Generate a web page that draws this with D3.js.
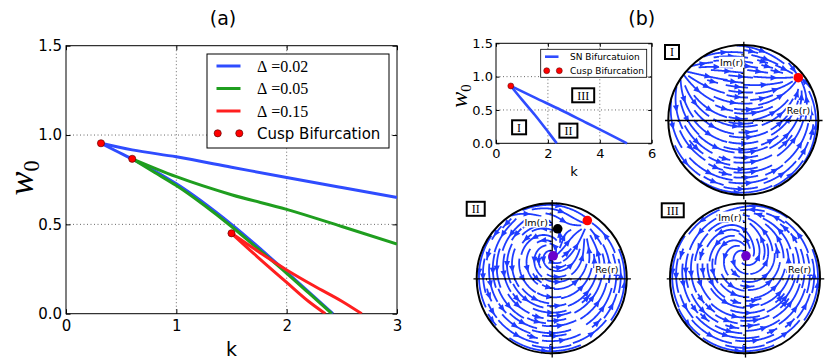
<!DOCTYPE html>
<html>
<head>
<meta charset="utf-8">
<script src="https://cdn.jsdelivr.net/npm/d3@7"></script>
<style>
  body { margin: 0; background: #fff; }
  svg { display: block; }
</style>
</head>
<body>
<div id="chart"></div>
<script>
// ---------- data ----------
const kTicksA = [0, 1, 2, 3];
const wTicksA = [0, 0.5, 1.0, 1.5];
const kTicksB = [0, 2, 4, 6];
const wTicksB = [0, 0.5, 1.0, 1.5];

const deltaLabels = ["0.02", "0.05", "0.15"];

// SN branches (k, w0) for each Delta, both leave the cusp point
const blueUpper = [[0.317, 0.954], [0.6, 0.917], [1, 0.878], [1.5, 0.82], [2, 0.762], [2.5, 0.706], [3, 0.651]];
const blueLower = [[0.317, 0.954], [0.45, 0.912], [0.6, 0.866], [0.8, 0.8], [1, 0.727], [1.5, 0.5], [2, 0.232], [2.42, 0]];
const greenUpper = [[0.6, 0.867], [1, 0.767], [1.5, 0.666], [2, 0.584], [2.5, 0.488], [3, 0.39]];
const greenLower = [[0.6, 0.867], [0.8, 0.792], [1, 0.717], [1.25, 0.608], [1.5, 0.488], [1.75, 0.358], [2, 0.226], [2.2, 0.116], [2.41, 0]];
const redUpper = [[1.5, 0.45], [1.75, 0.345], [2, 0.245], [2.25, 0.155], [2.5, 0.07], [2.68, 0]];
const redLower = [[1.5, 0.45], [1.75, 0.31], [2, 0.175], [2.2, 0.068], [2.35, 0]];
const cuspA = [[0.317, 0.954], [0.6, 0.867], [1.5, 0.45]];

// inset (Delta = 0.05, wider k range)
const snUpperB = [[0.57, 0.86], [1.5, 0.685], [2.5, 0.5], [3.5, 0.305], [4.3, 0.15], [5.05, 0]];
const snLowerB = [[0.57, 0.86], [1, 0.655], [1.5, 0.425], [2, 0.175], [2.34, 0]];
const cuspB = [[0.57, 0.86]];
const regionNames = ["I", "II", "III"];
const regionK = [0.89, 2.79, 3.36];
const regionW = [0.24, 0.19, 0.72];

// fixed points in the r-plane (Re r, Im r)
const stableI = [[0.733, 0.564]];
const stableII = [[0.475, 0.77]];
const saddleII = [[0.08, 0.66]];
const focusII = [[0.02, 0.30]];
const focusIII = [[0.013, 0.30]];

// ---------- styles ----------
const SANS = "DejaVu Sans";
const SERIF = "Liberation Serif";
const curveColors = ["#2f4cff", "#1f9e1f", "#ff1f1f"];
const STREAM = "#1e3cff";

const svg = d3.select("#chart").append("svg")
  .attr("width", 830).attr("height", 363)
  .style("background", "#fff");

const defs = svg.append("defs");

// ---------- helpers ----------
function frameAxes(g, x, y, kt, wt, fs, tick, padX, padY) {
  const [x0, x1] = x.range();
  const [y0, y1] = y.range();
  // dotted grid
  g.append("g").selectAll("line").data(kt.slice(1, -1)).join("line")
    .attr("x1", d => x(d)).attr("x2", d => x(d)).attr("y1", y0).attr("y2", y1)
    .attr("stroke", "#000").attr("stroke-width", 0.6).attr("stroke-dasharray", "1,2.5");
  g.append("g").selectAll("line").data(wt.slice(1, -1)).join("line")
    .attr("y1", d => y(d)).attr("y2", d => y(d)).attr("x1", x0).attr("x2", x1)
    .attr("stroke", "#000").attr("stroke-width", 0.6).attr("stroke-dasharray", "1,2.5");

  const style = sel => {
    sel.attr("font-family", SANS).attr("font-size", fs);
    sel.select(".domain").remove();
    sel.selectAll(".tick line").attr("stroke", "#000");
  };
  g.append("g").attr("transform", `translate(0,${y0})`)
    .call(d3.axisBottom(x).tickValues(kt).tickSize(-tick).tickSizeOuter(0).tickPadding(padX).tickFormat(d3.format("d")))
    .call(style);
  g.append("g").attr("transform", `translate(0,${y1})`)
    .call(d3.axisTop(x).tickValues(kt).tickSize(-tick).tickSizeOuter(0).tickFormat(""))
    .call(style);
  g.append("g").attr("transform", `translate(${x0},0)`)
    .call(d3.axisLeft(y).tickValues(wt).tickSize(-tick).tickSizeOuter(0).tickPadding(padY).tickFormat(d3.format(".1f")))
    .call(style);
  g.append("g").attr("transform", `translate(${x1},0)`)
    .call(d3.axisRight(y).tickValues(wt).tickSize(-tick).tickSizeOuter(0).tickFormat(""))
    .call(style);
  g.selectAll(".tick text").attr("fill", "#000");
  g.append("rect").attr("x", x0).attr("y", y1).attr("width", x1 - x0).attr("height", y0 - y1)
    .attr("fill", "none").attr("stroke", "#000").attr("stroke-width", 1);
}

function wLabel(g, x, y, size) {
  const t = g.append("text")
    .attr("transform", `translate(${x},${y}) rotate(-90)`)
    .attr("text-anchor", "middle")
    .attr("font-family", SERIF).attr("font-style", "italic").attr("font-size", size);
  t.append("tspan").text("w");
  t.append("tspan").attr("font-style", "normal").attr("font-size", size * 0.62).attr("dy", size * 0.18).text("0");
}

// ---------- panel (a) ----------
const xA = d3.scaleLinear().domain([0, 3]).range([66, 397]);
const yA = d3.scaleLinear().domain([0, 1.5]).range([313.7, 45.7]);
const gA = svg.append("g");

defs.append("clipPath").attr("id", "clipA").append("rect")
  .attr("x", 66).attr("y", 45.7).attr("width", 331).attr("height", 268);

frameAxes(gA, xA, yA, kTicksA, wTicksA, 15, 4.5, 7, 4);

const lineA = d3.line().x(d => xA(d[0])).y(d => yA(d[1])).curve(d3.curveMonotoneX);
const branchesA = [[blueUpper, blueLower], [greenUpper, greenLower], [redUpper, redLower]];
const curvesA = gA.append("g").attr("clip-path", "url(#clipA)");
branchesA.forEach((br, i) => {
  curvesA.selectAll(null).data(br).join("path")
    .attr("d", lineA).attr("fill", "none")
    .attr("stroke", curveColors[i]).attr("stroke-width", 3);
});
gA.append("g").selectAll("circle").data(cuspA).join("circle")
  .attr("cx", d => xA(d[0])).attr("cy", d => yA(d[1])).attr("r", 3.6)
  .attr("fill", "#ff0000").attr("stroke", "#4a0000").attr("stroke-width", 0.6);

gA.append("text").attr("x", 223).attr("y", 25).attr("text-anchor", "middle")
  .attr("font-family", SANS).attr("font-size", 19).text("(a)");
gA.append("text").attr("x", xA(1.5)).attr("y", 356).attr("text-anchor", "middle")
  .attr("font-family", SANS).attr("font-size", 19).text("k");
wLabel(gA, 33, 178, 36);

// legend (a)
const legA = gA.append("g");
legA.append("rect").attr("x", 207).attr("y", 54).attr("width", 182).attr("height", 94)
  .attr("fill", "#fff").attr("stroke", "#000").attr("stroke-width", 1);
deltaLabels.forEach((lab, i) => {
  const yy = 66 + i * 22.5;
  legA.append("line").attr("x1", 216.5).attr("x2", 240.5).attr("y1", yy).attr("y2", yy)
    .attr("stroke", curveColors[i]).attr("stroke-width", 3);
  const t = legA.append("text").attr("x", 257).attr("y", yy + 5.5)
    .attr("font-family", SERIF).attr("font-size", 16);
  t.append("tspan").text("\u0394");
  t.append("tspan").attr("dx", 4).text("=" + lab);
});
legA.selectAll(null).data([217.7, 239.3]).join("circle")
  .attr("cx", d => d).attr("cy", 133.3).attr("r", 3.6)
  .attr("fill", "#ff0000").attr("stroke", "#4a0000").attr("stroke-width", 0.6);
legA.append("text").attr("x", 257).attr("y", 138.8)
  .attr("font-family", SANS).attr("font-size", 15).text("Cusp Bifurcation");

// ---------- panel (b) inset ----------
const xB = d3.scaleLinear().domain([0, 6]).range([496, 651.7]);
const yB = d3.scaleLinear().domain([0, 1.5]).range([143.3, 43.3]);
const gB = svg.append("g");
frameAxes(gB, xB, yB, kTicksB, wTicksB, 13, 3.5, 5, 3);

const lineB = d3.line().x(d => xB(d[0])).y(d => yB(d[1])).curve(d3.curveMonotoneX);
gB.selectAll(null).data([snUpperB, snLowerB]).join("path")
  .attr("d", lineB).attr("fill", "none").attr("stroke", curveColors[0]).attr("stroke-width", 2.6);
gB.append("g").selectAll("circle").data(cuspB).join("circle")
  .attr("cx", d => xB(d[0])).attr("cy", d => yB(d[1])).attr("r", 3)
  .attr("fill", "#ff0000").attr("stroke", "#4a0000").attr("stroke-width", 0.5);

regionNames.forEach((nm, i) => {
  const cx = xB(regionK[i]), cy = yB(regionW[i]);
  const w = 10 + nm.length * 4;
  gB.append("rect").attr("x", cx - w / 2).attr("y", cy - 7).attr("width", w).attr("height", 14)
    .attr("fill", "#fff").attr("stroke", "#000").attr("stroke-width", 2);
  gB.append("text").attr("x", cx).attr("y", cy + 4.2).attr("text-anchor", "middle")
    .attr("font-family", SERIF).attr("font-size", 12).text(nm);
});

const legB = gB.append("g");
legB.append("rect").attr("x", 540.7).attr("y", 49.3).attr("width", 106).attr("height", 28)
  .attr("fill", "#fff").attr("stroke", "#000").attr("stroke-width", 0.8);
legB.append("line").attr("x1", 545).attr("x2", 558.5).attr("y1", 56.7).attr("y2", 56.7)
  .attr("stroke", curveColors[0]).attr("stroke-width", 2.6);
legB.selectAll(null).data([546.7, 559.3]).join("circle")
  .attr("cx", d => d).attr("cy", 70.7).attr("r", 3)
  .attr("fill", "#ff0000").attr("stroke", "#4a0000").attr("stroke-width", 0.5);
legB.append("text").attr("x", 570).attr("y", 60).attr("font-family", SANS).attr("font-size", 9)
  .text("SN Bifurcatuion");
legB.append("text").attr("x", 570).attr("y", 74).attr("font-family", SANS).attr("font-size", 9)
  .text("Cusp Bifurcation");

gB.append("text").attr("x", 641.7).attr("y", 25).attr("text-anchor", "middle")
  .attr("font-family", SANS).attr("font-size", 19).text("(b)");
gB.append("text").attr("x", 574).attr("y", 175.5).attr("text-anchor", "middle")
  .attr("font-family", SANS).attr("font-size", 13).text("k");
wLabel(gB, 467, 96, 24);

// ---------- phase portraits ----------
// I: Ott-Antonsen type flow  dr/dt = (i*W - D) r + (1 - r^2)/2
function fieldI(x, y) {
  const W = 0.62, D = 0.05;
  return [-D * x - W * y + (1 - x * x + y * y) / 2, W * x - D * y - x * y];
}

// II, III: rotation about the inner focus, written in the disc coordinate
// w = (r - P) / (1 - conj(P) r) and pushed back to r
function discField(P, thetaDot, rhoDot) {
  return (x, y) => {
    const nr = x - P[0], ni = y - P[1];
    const dr = 1 - (P[0] * x + P[1] * y), di = -(P[0] * y - P[1] * x);
    const dd = dr * dr + di * di;
    const wr = (nr * dr + ni * di) / dd, wi = (ni * dr - nr * di) / dd;
    const rho = Math.hypot(wr, wi), th = Math.atan2(wi, wr);
    const td = thetaDot(rho, th), rd = rhoDot(rho, th);
    const c = Math.cos(th), s = Math.sin(th);
    const vr = c * rd - s * rho * td, vi = s * rd + c * rho * td;
    const qr = 1 + P[0] * wr + P[1] * wi, qi = P[0] * wi - P[1] * wr;
    const q2r = qr * qr - qi * qi, q2i = 2 * qr * qi;
    const m = q2r * q2r + q2i * q2i;
    return [(vr * q2r + vi * q2i) / m, (vi * q2r - vr * q2i) / m];
  };
}
const deg = Math.PI / 180;
const bump = d => { const a = Math.atan2(Math.sin(d), Math.cos(d)) / deg; return Math.exp(-a * a / (2 * 18 * 18)); };
const fieldII = discField(focusII[0],
  (rho, th) => {
    const t = (rho - 0.456) / 0.544;
    const th0 = (-31.9 + 35.7 * t) * deg, s = 0.929 - 0.39 * t;
    return 1 - Math.sin(th - th0) / s;
  },
  (rho, th) => {
    const c = 0.65 + 0.2 * bump(th - 36.4 * deg) - 0.2 * bump(th - 79.8 * deg);
    return 1.0 * rho * (1 - rho * rho) * (c - rho);
  });
const fieldIII = discField(focusIII[0],
  (rho, th) => 1 - Math.sin(th) / (1.35 - 0.3 * rho),
  (rho, th) => 0.6 * rho * (1 - rho * rho) * (0.8 - rho));

function streamlines(field, N, maxSteps) {
  const mask = new Uint8Array(N * N);
  const h = 0.01;
  const cellOf = (x, y) => {
    const i = Math.floor((x + 1) / 2 * N), j = Math.floor((y + 1) / 2 * N);
    return (i < 0 || j < 0 || i >= N || j >= N) ? -1 : j * N + i;
  };
  const dirAt = (x, y) => {
    const [u, v] = field(x, y);
    const s = Math.hypot(u, v);
    return s > 1e-4 ? [u / s, v / s] : null;
  };
  function trace(x, y, sign, visited) {
    const pts = [];
    let cur = cellOf(x, y), prev = null;
    for (let n = 0; n < maxSteps; n++) {
      const d1 = dirAt(x, y);
      if (!d1) break;
      const d2 = dirAt(x + sign * h / 2 * d1[0], y + sign * h / 2 * d1[1]);
      if (!d2) break;
      if (prev && prev[0] * d2[0] + prev[1] * d2[1] < 0) break;
      const nx = x + sign * h * d2[0], ny = y + sign * h * d2[1];
      if (nx * nx + ny * ny >= 0.993) break;
      const c = cellOf(nx, ny);
      if (c !== cur) {
        if (c < 0 || mask[c]) break;
        mask[c] = 1; visited.push(c); cur = c;
      }
      x = nx; y = ny; prev = d2;
      pts.push([x, y]);
    }
    return pts;
  }
  // spiral seeding from the outside in
  const order = [];
  let a0 = 0, b0 = 0, a1 = N - 1, b1 = N - 1;
  while (a0 <= a1 && b0 <= b1) {
    for (let i = a0; i <= a1; i++) order.push([i, b0]);
    for (let j = b0 + 1; j <= b1; j++) order.push([a1, j]);
    if (b1 > b0) for (let i = a1 - 1; i >= a0; i--) order.push([i, b1]);
    if (a1 > a0) for (let j = b1 - 1; j > b0; j--) order.push([a0, j]);
    a0++; b0++; a1--; b1--;
  }
  const out = [];
  for (const [i, j] of order) {
    const c0 = j * N + i;
    if (mask[c0]) continue;
    const sx = -1 + (i + 0.5) * 2 / N, sy = -1 + (j + 0.5) * 2 / N;
    if (sx * sx + sy * sy > 0.96) continue;
    const visited = [c0];
    mask[c0] = 1;
    const fw = trace(sx, sy, 1, visited);
    const bw = trace(sx, sy, -1, visited);
    const pts = bw.reverse().concat([[sx, sy]], fw);
    let len = 0;
    for (let k = 1; k < pts.length; k++) len += Math.hypot(pts[k][0] - pts[k - 1][0], pts[k][1] - pts[k - 1][1]);
    if (len < 0.15) { visited.forEach(c => { mask[c] = 0; }); continue; }
    out.push(pts);
  }
  return out;
}

const tickR = d3.range(-8, 9).filter(d => d !== 0).map(d => d / 8);

function drawPortrait(p) {
  const R = 75;
  const sx = d3.scaleLinear().domain([-1, 1]).range([p.cx - R, p.cx + R]);
  const sy = d3.scaleLinear().domain([-1, 1]).range([p.cy + R, p.cy - R]);
  const g = svg.append("g");
  const lines = streamlines(p.field, 30, 50).map(pts => pts.map(d => [sx(d[0]), sy(d[1])]));

  g.append("g").selectAll("path").data(lines).join("path")
    .attr("d", d3.line()).attr("fill", "none")
    .attr("stroke", STREAM).attr("stroke-width", 1.8).attr("stroke-linejoin", "round");

  const heads = lines.filter(l => l.length > 3).map(l => {
    const cum = [0];
    for (let k = 1; k < l.length; k++) cum.push(cum[k - 1] + Math.hypot(l[k][0] - l[k - 1][0], l[k][1] - l[k - 1][1]));
    const n = Math.min(l.length - 2, d3.bisectLeft(cum, cum[cum.length - 1] / 2));
    const a = l[n], b = l[n + 1];
    const L = Math.hypot(b[0] - a[0], b[1] - a[1]) || 1;
    const ux = (b[0] - a[0]) / L, uy = (b[1] - a[1]) / L;
    const tip = [a[0] + ux * 4, a[1] + uy * 4];
    const base = [a[0] - ux * 3, a[1] - uy * 3];
    return [tip, [base[0] - uy * 3, base[1] + ux * 3], [base[0] + uy * 3, base[1] - ux * 3]];
  });
  g.append("g").selectAll("polygon").data(heads).join("polygon")
    .attr("points", d => d.map(q => q.join(",")).join(" "))
    .attr("fill", STREAM);

  // axes through the centre
  const ax = d3.scaleLinear().domain([-1.05, 1.05]).range([sx(-1.05), sx(1.05)]);
  const ay = d3.scaleLinear().domain([-1.05, 1.05]).range([sy(-1.05), sy(1.05)]);
  g.append("g").attr("transform", `translate(0,${sy(0)})`)
    .call(d3.axisBottom(ax).tickValues(tickR).tickSize(2).tickSizeOuter(0).tickFormat(""))
    .call(s => s.select(".domain").attr("stroke-width", 1.3));
  g.append("g").attr("transform", `translate(${sx(0)},0)`)
    .call(d3.axisLeft(ay).tickValues(tickR).tickSize(2).tickSizeOuter(0).tickFormat(""))
    .call(s => s.select(".domain").attr("stroke-width", 1.3));

  g.append("circle").attr("cx", sx(0)).attr("cy", sy(0)).attr("r", R)
    .attr("fill", "none").attr("stroke", "#000").attr("stroke-width", 2);

  // Im(r), Re(r)
  const lab = (txt, x, y, anchor) => {
    const t = g.append("text").attr("x", sx(x)).attr("y", sy(y) + 3.5)
      .attr("text-anchor", anchor).attr("font-family", SANS).attr("font-size", 9.5).text(txt);
    const bb = t.node().getBBox();
    g.insert("rect", () => t.node()).attr("x", bb.x - 1).attr("y", bb.y).attr("width", bb.width + 2)
      .attr("height", bb.height).attr("fill", "#fff");
  };
  lab("Im(r)", p.im[0], p.im[1], "end");
  lab("Re(r)", p.re[0], p.re[1], "start");

  // panel tag box
  const bw = 10 + p.name.length * 4;
  g.append("rect").attr("x", sx(p.tag[0])).attr("y", sy(p.tag[1])).attr("width", bw).attr("height", 14)
    .attr("fill", "#fff").attr("stroke", "#000").attr("stroke-width", 2);
  g.append("text").attr("x", sx(p.tag[0]) + bw / 2).attr("y", sy(p.tag[1]) + 11.2)
    .attr("text-anchor", "middle").attr("font-family", SERIF).attr("font-size", 12).text(p.name);

  p.dots.forEach(([pts, col]) => {
    g.append("g").selectAll("circle").data(pts).join("circle")
      .attr("cx", d => sx(d[0])).attr("cy", d => sy(d[1])).attr("r", 4.8).attr("fill", col);
  });
}

drawPortrait({ name: "I", cx: 743.3, cy: 120, field: fieldI, im: [0, 0.77], re: [0.58, 0.133],
  tag: [-1.044, 1.0], dots: [[stableI, "#ff0000"]] });
drawPortrait({ name: "II", cx: 551.7, cy: 278.3, field: fieldII, im: [-0.05, 0.75], re: [0.58, 0.124],
  tag: [-1.133, 1.02], dots: [[stableII, "#ff0000"], [saddleII, "#000000"], [focusII, "#6a00cc"]] });
drawPortrait({ name: "III", cx: 745, cy: 278.3, field: fieldIII, im: [-0.044, 0.817], re: [0.573, 0.124],
  tag: [-1.11, 1.0], dots: [[focusIII, "#6a00cc"]] });
</script>
</body>
</html>
